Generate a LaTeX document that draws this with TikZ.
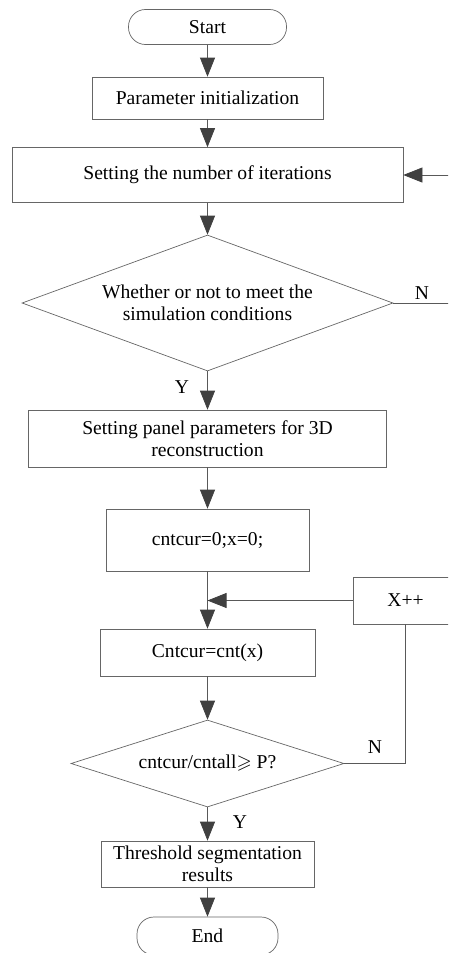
\documentclass[tikz,border=0pt]{standalone}
\usepackage{amsmath,amssymb}
\usepackage{fontspec}
\setmainfont{Liberation Serif}
\usetikzlibrary{arrows.meta,shapes.geometric,positioning}

\tikzset{
  box/.style={draw=black!60,line width=0.7pt,inner sep=0pt,align=center},
  term/.style={box,rounded corners=17pt},
  cond/.style={box,diamond},
  link/.style={draw=black!65,line width=0.7pt},
  flow/.style={link,-{Triangle[length=19pt,width=15pt,color=black!75,fill=black!75]}}
}

\begin{document}
\begin{tikzpicture}[x=1pt,y=-1pt,font=\fontsize{19.6pt}{22.5pt}\selectfont]
\clip (0,0) rectangle (448,953);

\node[term,minimum width=158pt,minimum height=35pt] (start) at (207.5,27) {Start};
\node[box,minimum width=231pt,minimum height=42pt] (init) at (207.5,98) {Parameter initialization};
\node[box,minimum width=391pt,minimum height=55pt] (iter) at (207.5,175) {Setting the number of iterations};
\node[cond,aspect=2.73,minimum width=371pt,minimum height=136pt] (sim) at (207.5,303) {Whether or not to meet the\\simulation conditions};
\node[box,minimum width=358pt,minimum height=57pt] (panel) at (207.5,438.5) {Setting panel parameters for 3D\\reconstruction};
\node[box,minimum width=203pt,minimum height=62pt] (zero) at (207.5,540) {cntcur=0;x=0;};
\node[box,minimum width=215pt,minimum height=47pt] (cnt) at (207.5,652.5) {Cntcur=cnt(x)};
\node[cond,aspect=3.14,minimum width=273pt,minimum height=87pt] (ratio) at (207.5,763.5) {cntcur/cntall$\geqslant$ P?};
\node[box,minimum width=105pt,minimum height=47pt] (inc) at (405.5,600.5) {X++};
\node[box,minimum width=213pt,minimum height=46pt] (seg) at (207.5,864) {Threshold segmentation\\results};
\node[term,minimum width=141pt,minimum height=38pt] (end) at (207.5,936) {End};

\node (n1) at (422,293) {N};
\node (y1) at (182,387) {Y};
\node (n2) at (375,747) {N};
\node (y2) at (240,822) {Y};

\draw[flow] (start.south) -- (init.north);
\draw[flow] (init.south) -- (iter.north);
\draw[flow] (iter.south) -- (sim.north);
\draw[flow] (sim.south) -- (panel.north);
\draw[flow] (panel.south) -- (zero.north);
\draw[flow] (zero.south) -- (cnt.north);
\draw[flow] (cnt.south) -- (ratio.north);
\draw[flow] (ratio.south) -- (seg.north);
\draw[flow] (seg.south) -- (end.north);

\coordinate (back) at (460,0);
\draw[flow] (sim.east) -- (back |- sim.east) -- (back |- iter.east) -- (iter.east);
\draw[link] (ratio.east) -| (inc.south);
\coordinate (join) at (zero.south |- inc.west);
\draw[flow] (inc.west) -- (join);
\end{tikzpicture}
\end{document}
